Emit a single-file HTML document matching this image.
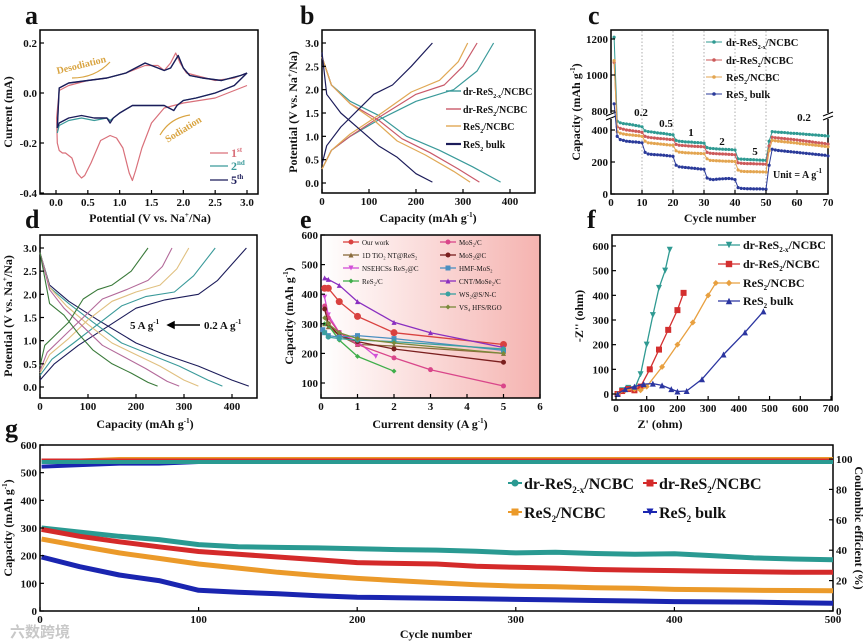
<!DOCTYPE html>
<html><head><meta charset="utf-8"><style>
html,body{margin:0;padding:0;background:#fff;}
svg{display:block;font-family:"Liberation Serif","Noto Serif CJK SC",serif;font-weight:bold;}
</style></head><body>
<svg id="fig" width="866" height="643" viewBox="0 0 866 643" xmlns="http://www.w3.org/2000/svg">
<defs><linearGradient id="pinkbg" x1="0" y1="0" x2="1" y2="0"><stop offset="0" stop-color="#ffffff"/><stop offset="1" stop-color="#f5b3b0"/></linearGradient></defs>
</svg>
<script>
// ---- panel a data ----
const aV1c=[3.0,2.5,2.0,1.7,1.5,1.35,1.25,1.2,1.15,1.05,0.95,0.85,0.7,0.55,0.45,0.4,0.33,0.25,0.15,0.1,0.05,0.02,0.01];
const aI1c=[0.03,-0.02,-0.04,-0.06,-0.12,-0.22,-0.31,-0.35,-0.32,-0.22,-0.18,-0.17,-0.19,-0.28,-0.33,-0.34,-0.32,-0.26,-0.24,-0.24,-0.23,-0.2,-0.1];
const aV1a=[0.01,0.05,0.2,0.5,0.8,1.1,1.4,1.6,1.7,1.8,1.88,1.95,2.05,2.2,2.5,2.8,3.0];
const aI1a=[-0.1,0.01,0.03,0.05,0.06,0.08,0.11,0.11,0.09,0.12,0.16,0.12,0.08,0.07,0.05,0.06,0.08];
const aV5c=[3.0,2.8,2.5,2.2,2.0,1.9,1.85,1.7,1.5,1.2,1.0,0.9,0.85,0.8,0.6,0.4,0.2,0.05,0.02];
const aI5c=[0.08,0.03,0.0,-0.02,-0.03,-0.05,-0.07,-0.05,-0.05,-0.05,-0.08,-0.1,-0.12,-0.1,-0.1,-0.09,-0.1,-0.12,-0.14];
const aV5a=[0.02,0.05,0.2,0.5,0.8,1.1,1.4,1.6,1.7,1.8,1.92,2.0,2.1,2.3,2.6,2.9,3.0];
const aI5a=[-0.14,0.02,0.04,0.05,0.06,0.08,0.12,0.1,0.09,0.1,0.15,0.1,0.07,0.06,0.05,0.07,0.08];
const aI2c=[0.08,0.03,0.0,-0.02,-0.03,-0.05,-0.07,-0.05,-0.05,-0.05,-0.08,-0.1,-0.11,-0.1,-0.11,-0.1,-0.11,-0.13,-0.16];
// ---- panel b data ----
const bNames=["dr-ReS2-x/NCBC","dr-ReS2/NCBC","ReS2/NCBC","ReS2 bulk"];
const bDisCap=[[0,20,60,120,180,250,320,380],[0,20,60,120,170,230,290,335],[0,20,60,110,160,220,280,315],[0,10,40,80,120,160,200,235]];
const bDisV=[[2.7,2.1,1.75,1.45,1.0,0.7,0.35,0.02],[2.7,2.1,1.7,1.35,0.95,0.65,0.3,0.02],[2.7,2.1,1.7,1.35,0.9,0.6,0.25,0.02],[2.8,1.9,1.5,1.15,0.8,0.55,0.2,0.02]];
const bChCap=[[0,20,60,120,200,280,330,365],[0,20,60,120,200,260,300,330],[0,20,60,120,190,250,290,310],[0,10,40,80,110,150,190,235]];
const bChV=[[0.3,0.7,1.0,1.35,1.75,2.0,2.4,3.0],[0.3,0.7,1.0,1.4,1.9,2.1,2.5,3.0],[0.3,0.7,1.05,1.45,1.95,2.2,2.6,3.0],[0.4,0.8,1.2,1.6,1.9,2.1,2.5,3.0]];
// ---- panel c data ----
const cTeal=[1210,455,445,440,438,435,432,428,425,420,395,390,388,385,382,380,378,375,372,370,335,330,328,326,325,324,322,321,320,318,290,285,284,282,281,280,279,278,277,275,220,218,217,216,215,214,213,212,211,210,330,390,388,386,385,384,382,380,379,378,376,375,373,372,370,369,367,366,364,362];
const cRed=[1070,420,410,405,400,398,395,392,390,385,360,355,352,350,348,346,345,343,341,340,310,305,303,302,300,299,298,297,296,295,260,255,253,252,251,250,249,248,247,245,195,192,191,190,190,189,188,188,187,186,300,355,352,350,348,346,344,342,340,338,335,333,330,328,325,322,320,318,315,312];
const cOrange=[1080,390,380,375,372,370,368,366,364,360,330,320,318,316,314,312,310,308,306,305,270,262,260,258,257,256,255,254,253,252,220,210,209,208,207,206,205,205,204,203,150,142,141,140,140,139,139,138,138,137,270,335,333,330,328,326,324,322,320,318,315,313,311,309,307,305,303,300,298,295];
const cNavy=[840,360,340,335,330,328,326,325,323,320,260,250,248,246,245,244,242,240,238,235,180,170,168,166,164,162,160,158,156,155,100,92,90,92,94,95,96,97,95,90,40,35,34,33,33,32,32,32,31,30,180,280,275,272,270,268,266,264,262,260,258,256,254,252,250,248,246,244,242,238];
const cRates=["0.2","0.5","1","2","5","0.2"];
// ---- panel d data ----
const dDisCap=[[0,20,60,120,200,260,330,400,435],[0,20,60,110,170,230,290,350,380],[0,20,55,100,150,200,250,300,330],[0,20,50,90,130,175,220,265,290],[0,20,50,80,110,150,190,225,245]];
const dDisV=[[2.9,2.2,1.85,1.45,0.95,0.7,0.45,0.15,0.02],[2.9,2.15,1.8,1.4,0.95,0.7,0.45,0.15,0.02],[2.9,2.15,1.75,1.35,0.95,0.7,0.45,0.15,0.02],[2.9,2.1,1.7,1.3,0.9,0.65,0.4,0.12,0.02],[2.9,1.8,1.55,1.15,0.8,0.5,0.3,0.1,0.02]];
const dChCap=[[0,30,80,140,200,260,330,370,430],[0,25,70,120,170,220,280,320,365],[0,20,60,100,150,200,250,285,310],[0,15,50,90,130,180,225,255,275],[0,10,30,60,90,120,150,190,225]];
const dChV=[[0.15,0.5,0.9,1.3,1.7,1.88,2.0,2.3,3.0],[0.25,0.6,0.95,1.35,1.75,1.95,2.05,2.4,3.0],[0.3,0.7,1.05,1.45,1.85,2.05,2.2,2.55,3.0],[0.35,0.75,1.1,1.5,1.9,2.1,2.3,2.6,3.0],[0.45,0.9,1.1,1.4,1.9,2.1,2.2,2.5,3.0]];
// ---- panel e data ----
const eNames=["Our work","1D TiO\u2082 NT@ReS\u2082","NSEHCSs ReS\u2082@C","ReS\u2082/C","MoS\u2082/C","MoS\u2082@C","HMF-MoS\u2082","CNT/MoSe\u2082/C","WS\u2082@S/N-C","VS\u2084 HFS/RGO"];
const eX=[[0.1,0.2,0.5,1,2,5],[0.1,0.2,0.5,1,2,5],[0.1,0.2,0.5,1,1.5],[0.1,0.2,0.5,1,2],[0.1,0.2,0.5,1,2,3,5],[0.1,0.2,0.5,1,2,5],[0.05,0.1,0.2,0.5,1,2,5],[0.1,0.2,0.5,1,2,3,5],[0.1,0.2,0.5,1,2,5],[0.1,0.2,0.5,1,2,5]];
const eY=[[420,420,375,325,270,230],[300,290,260,230,225,200],[390,330,270,240,190],[300,295,245,190,140],[360,320,270,230,185,145,90],[350,300,260,240,215,170],[280,270,260,255,260,250,210],[455,450,430,375,305,270,220],[270,255,250,245,240,215],[320,300,270,250,235,200]];
// ---- panel f data ----
const fX=[[5,20,40,60,80,100,120,140,160,175],[5,20,40,60,80,110,140,170,200,220],[5,30,60,80,100,150,200,250,300,325],[5,30,60,90,120,150,180,200,230,280,350,420,480]];
const fY=[[0,15,25,20,80,200,320,430,500,585],[0,12,20,15,30,100,180,260,340,410],[0,15,20,15,30,110,200,290,400,450],[0,20,30,40,42,35,20,10,12,60,160,250,335]];
// ---- panel g data ----
const gCycles=[1,25,50,75,100,125,150,175,200,225,250,275,300,325,350,375,400,425,450,475,500];
const gTeal=[300,285,270,258,240,232,230,228,225,222,220,216,210,212,208,205,207,200,192,188,185];
const gRed=[295,270,250,232,215,205,195,185,175,172,170,162,158,155,150,148,146,144,142,140,140];
const gOrange=[260,235,210,190,170,155,140,128,118,110,102,95,90,88,84,82,78,77,75,74,73];
const gNavy=[195,160,130,110,75,68,62,55,50,48,46,44,42,40,38,36,34,33,32,30,28];
const gCETeal=[98,98,98,98,98,98,98,98,98,98,98,98,98,98,98,98,98,98,98,98,98];
const gCERed=[99,99,99,99,99,99,99,99,99,99,99,99,99,99,99,99,99,99,99,99,99];
const gCEOrange=[99,99,100,100,100,100,100,100,100,100,100,100,100,100,100,100,100,100,100,100,100];
const gCENavy=[95,96,97,97,98,98,98,98,98,98,98,98,98,98,98,98,98,98,98,98,98];

const NS="http://www.w3.org/2000/svg";
const svg=document.getElementById('fig');
function el(tag,attrs,parent){const e=document.createElementNS(NS,tag);for(const k in attrs)e.setAttribute(k,attrs[k]);(parent||svg).appendChild(e);return e;}
function lin(d0,d1,r0,r1){return v=>r0+(v-d0)*(r1-r0)/(d1-d0);}
function txt(x,y,s,opt){const o=Object.assign({x:x,y:y,'font-size':11,'text-anchor':'middle',fill:'#111'},opt||{});const t=el('text',o);t.innerHTML=s;return t;}
function pathD(xs,ys,sx,sy){return xs.map((v,i)=>(i?'L':'M')+sx(v).toFixed(1)+' '+sy(ys[i]).toFixed(1)).join(' ');}
function frame(b,name){const r=el('rect',{x:b[0],y:b[2],width:b[1]-b[0],height:b[3]-b[2],fill:'none',stroke:'#000','stroke-width':1.5});

}
function xTicks(b,sx,ticks,fmt,name){ticks.forEach(v=>{const x=sx(v);el('line',{x1:x,x2:x,y1:b[3],y2:b[3]-4,stroke:'#000','stroke-width':1.2});const t=txt(x,b[3]+12,fmt(v));

});}
function yTicks(b,sy,ticks,fmt,name,right){ticks.forEach(v=>{const y=sy(v);const x0=right?b[1]:b[0];el('line',{x1:x0,x2:right?x0-4:x0+4,y1:y,y2:y,stroke:'#000','stroke-width':1.2});const t=txt(right?x0+3:x0-3,y+4,fmt(v),{'text-anchor':right?'start':'end'});

});}
function series(xs,ys,sx,sy,color,w,name){const p=el('path',{d:pathD(xs,ys,sx,sy),fill:'none',stroke:color,'stroke-width':w,'stroke-linejoin':'round'});


return p;}
function marker(x,y,color,shape,r){let m;if(shape==='sq')m=el('rect',{x:x-r,y:y-r,width:2*r,height:2*r,fill:color});else if(shape==='tri')m=el('path',{d:`M${x} ${y-r}L${x+r} ${y+r}L${x-r} ${y+r}Z`,fill:color});else if(shape==='dtri')m=el('path',{d:`M${x} ${y+r}L${x+r} ${y-r}L${x-r} ${y-r}Z`,fill:color});else if(shape==='dia')m=el('path',{d:`M${x} ${y-r}L${x+r} ${y}L${x} ${y+r}L${x-r} ${y}Z`,fill:color});else m=el('circle',{cx:x,cy:y,r:r,fill:color});

}
function letter(x,y,s){const t=txt(x,y,s,{'font-size':26,'text-anchor':'start'});

}
function ylab(x,y,s,rot,name){const t=txt(x,y,s,{'font-size':12,transform:`rotate(${rot||-90} ${x} ${y})`});

}
function xlab(x,y,s,name){const t=txt(x,y,s,{'font-size':12});

}
const f1=v=>v.toFixed(1), f0=v=>String(v);

// ================= a =================
(function(){const b=[40,258,30,194];const sx=lin(0,3,56,247),sy=lin(0.2,-0.4,43,193);
frame(b,'panel-a-frame');
series(aV1c,aI1c,sx,sy,'#d9707a',1.2,'cv-1st-cathodic');series(aV1a,aI1a,sx,sy,'#d9707a',1.2,'cv-1st-anodic');
series(aV5c,aI2c,sx,sy,'#3a9a9a',1.2,'cv-2nd-cathodic');series(aV5a,aI5a,sx,sy,'#3a9a9a',1.2,'cv-2nd-anodic');
series(aV5c,aI5c,sx,sy,'#1c1c5a',1.4,'cv-5th-cathodic');series(aV5a,aI5a,sx,sy,'#1c1c5a',1.4,'cv-5th-anodic');
xTicks(b,sx,[0,0.5,1,1.5,2,2.5,3],f1,'a-x');yTicks(b,sy,[-0.4,-0.2,0,0.2],f1,'a-y');
letter(25,24,'a');ylab(12,112,'Current (mA)',-90,'a-y-axis-title');xlab(150,222,'Potential (V vs. Na<tspan font-size="7" dy="-5">+</tspan><tspan dy="5">/Na)</tspan>','a-x-axis-title');
const leg=[['1<tspan font-size="7" dy="-5">st</tspan>','#d9707a',153],['2<tspan font-size="7" dy="-5">nd</tspan>','#3a9a9a',166],['5<tspan font-size="7" dy="-5">th</tspan>','#1c1c5a',180]];
leg.forEach(l=>{el('line',{x1:210,x2:228,y1:l[2],y2:l[2],stroke:l[1],'stroke-width':1.3});const t=txt(231,l[2]+4,l[0],{'text-anchor':'start',fill:l[1],'font-size':12});

});
const d=txt(82,68,'Desodiation',{fill:'#d9a441','font-size':10,transform:'rotate(-14 82 68)'});


el('path',{d:'M72 78 Q95 78 110 62',fill:'none',stroke:'#d9a441','stroke-width':1.2});
const s=txt(185,132,'Sodiation',{fill:'#d9a441','font-size':10,transform:'rotate(-32 185 132)'});


el('path',{d:'M190 115 Q170 118 160 135',fill:'none',stroke:'#d9a441','stroke-width':1.2});
})();

// ================= b =================
(function(){const b=[322,535,30,193];const sx=lin(0,400,322,510),sy=lin(3,0,43,183);
frame(b,'panel-b-frame');const cols=['#3a9a9a','#c95a6a','#e0a855','#1c1c5a'];
for(let i=0;i<4;i++){series(bDisCap[i],bDisV[i],sx,sy,cols[i],1.2,'b-discharge-'+i);series(bChCap[i],bChV[i],sx,sy,cols[i],1.2,'b-charge-'+i);}
xTicks(b,sx,[0,100,200,300,400],f0,'b-x');yTicks(b,sy,[0,0.5,1,1.5,2,2.5,3],f1,'b-y');
letter(300,24,'b');ylab(297,112,'Potential (V vs. Na<tspan font-size="7" dy="-5">+</tspan><tspan dy="5">/Na)</tspan>',-90,'b-y-axis-title');xlab(428,222,'Capacity (mAh g<tspan font-size="7" dy="-5">-1</tspan><tspan dy="5">)</tspan>','b-x-axis-title');
const lt=['dr-ReS<tspan font-size="6" dy="3">2-x</tspan><tspan dy="-3">/NCBC</tspan>','dr-ReS<tspan font-size="6" dy="3">2</tspan><tspan dy="-3">/NCBC</tspan>','ReS<tspan font-size="6" dy="3">2</tspan><tspan dy="-3">/NCBC</tspan>','ReS<tspan font-size="6" dy="3">2</tspan><tspan dy="-3"> bulk</tspan>'];
[91,109,126,144].forEach((y,i)=>{el('line',{x1:446,x2:461,y1:y,y2:y,stroke:cols[i],'stroke-width':i==3?2.2:1.4});const t=txt(463,y+4,lt[i],{'text-anchor':'start','font-size':10});

});
})();

// ================= c =================
(function(){const b=[611,828,30,194];const sx=lin(0,70,611,828);const lo=lin(0,400,194,130),hi=lin(800,1200,111,39);const sy=v=>v>=700?hi(v):lo(v);
frame(b,'panel-c-frame');
[10,20,30,40,50].forEach(v=>{el('line',{x1:sx(v),x2:sx(v),y1:31,y2:193,stroke:'#999','stroke-width':0.8,'stroke-dasharray':'1.5 2'});});
el('rect',{x:606,y:113,width:10,height:6,fill:'#fff'});el('rect',{x:823,y:113,width:10,height:6,fill:'#fff'});
el('path',{d:'M606 116 L616 112 M606 120 L616 116 M823 116 L833 112 M823 120 L833 116',stroke:'#000','stroke-width':1.2});
const cyc=cTeal.map((v,i)=>i+1);const S=[[cTeal,'#2f9a92','dr-ReS2-x'],[cRed,'#cc5a5a','dr-ReS2'],[cOrange,'#e3a550','ReS2-NCBC'],[cNavy,'#2a3a9a','ReS2-bulk']];
S.forEach(s=>{series(cyc,s[0],sx,sy,s[1],1,'c-rate-'+s[2]);s[0].forEach((v,i)=>marker(sx(i+1),sy(v),s[1],'c',1.6));});
xTicks(b,sx,[0,10,20,30,40,50,60,70],f0,'c-x');yTicks(b,sy,[0,200,400,800,1000,1200],f0,'c-y');
letter(588,24,'c');ylab(580,112,'Capacity (mAh g<tspan font-size="7" dy="-5">-1</tspan><tspan dy="5">)</tspan>',-90,'c-y-axis-title');xlab(720,222,'Cycle number','c-x-axis-title');
const rp=[[641,116],[666,127],[691,136],[722,145],[755,155],[804,121]];
rp.forEach((p,i)=>{const t=txt(p[0],p[1],cRates[i],{'font-size':11});

});
const u=txt(773,178,'Unit = A g<tspan font-size="7" dy="-5">-1</tspan>',{'font-size':10,'text-anchor':'start'});


const lt=['dr-ReS<tspan font-size="6" dy="3">2-x</tspan><tspan dy="-3">/NCBC</tspan>','dr-ReS<tspan font-size="6" dy="3">2</tspan><tspan dy="-3">/NCBC</tspan>','ReS<tspan font-size="6" dy="3">2</tspan><tspan dy="-3">/NCBC</tspan>','ReS<tspan font-size="6" dy="3">2</tspan><tspan dy="-3"> bulk</tspan>'];
[42,60,77,94].forEach((y,i)=>{el('line',{x1:706,x2:722,y1:y,y2:y,stroke:S[i][1],'stroke-width':1});marker(714,y,S[i][1],'c',1.8);const t=txt(726,y+4,lt[i],{'text-anchor':'start','font-size':10.5});

});
})();

// ================= d =================
(function(){const b=[40,257,235,398];const sx=lin(0,400,40,232),sy=lin(3,0,248,387);
frame(b,'panel-d-frame');const cols=['#1c1c5a','#3a9a9a','#e0c080','#b36a9a','#3a7a3a'];
for(let i=0;i<5;i++){series(dDisCap[i],dDisV[i],sx,sy,cols[i],1.1,'d-discharge-'+i);series(dChCap[i],dChV[i],sx,sy,cols[i],1.1,'d-charge-'+i);}
xTicks(b,sx,[0,100,200,300,400],f0,'d-x');yTicks(b,sy,[0,0.5,1,1.5,2,2.5,3],f1,'d-y');
letter(25,228,'d');ylab(12,316,'Potential (V vs. Na<tspan font-size="7" dy="-5">+</tspan><tspan dy="5">/Na)</tspan>',-90,'d-y-axis-title');xlab(145,428,'Capacity (mAh g<tspan font-size="7" dy="-5">-1</tspan><tspan dy="5">)</tspan>','d-x-axis-title');
const t1=txt(130,329,'5 A g<tspan font-size="7" dy="-5">-1</tspan>',{'font-size':11,'text-anchor':'start'});


el('path',{d:'M200 325 L168 325 M168 325 L174 322 L174 328 Z',stroke:'#000','stroke-width':1.5,fill:'#000'});
const t2=txt(204,329,'0.2 A g<tspan font-size="7" dy="-5">-1</tspan>',{'font-size':11,'text-anchor':'start'});


})();

// ================= e =================
(function(){const b=[321,540,235,398];const sx=lin(0,6,321,540),sy=lin(600,100,235,383);
el('rect',{x:321,y:235,width:219,height:163,fill:'url(#pinkbg)'});frame(b,'panel-e-frame');
const cols=['#d9413f','#8a6a3a','#d24fd8','#3fae4a','#d9468a','#7a1f1f','#4a8fc0','#8a2fc0','#3aa0a0','#7a8a3a'];const shp=['c','tri','dtri','dia','c','c','sq','tri','c','dia'];
for(let i=0;i<eX.length;i++){series(eX[i],eY[i],sx,sy,cols[i],1.3,'e-series-'+i);eX[i].forEach((x,j)=>marker(sx(x),sy(eY[i][j]),cols[i],shp[i],i==0?3.5:2.5));}
xTicks(b,sx,[0,1,2,3,4,5,6],f0,'e-x');yTicks(b,sy,[100,200,300,400,500,600],f0,'e-y');
letter(300,228,'e');ylab(293,316,'Capacity (mAh g<tspan font-size="7" dy="-5">-1</tspan><tspan dy="5">)</tspan>',-90,'e-y-axis-title');xlab(430,428,'Current density (A g<tspan font-size="7" dy="-5">-1</tspan><tspan dy="5">)</tspan>','e-x-axis-title');
const ly=[242,255,268,281,242,255,268,281,294,307];
for(let i=0;i<10;i++){const lx=i<4?343:440;el('line',{x1:lx,x2:lx+16,y1:ly[i],y2:ly[i],stroke:cols[i],'stroke-width':1.3});marker(lx+8,ly[i],cols[i],shp[i],2.5);const t=txt(lx+19,ly[i]+3,eNames[i],{'text-anchor':'start','font-size':7,'font-weight':'normal'});

}
})();

// ================= f =================
(function(){const b=[612,832,235,400];const sx=lin(0,700,616,831),sy=lin(0,600,394,246);
frame(b,'panel-f-frame');const cols=['#2f9a92','#d32f2f','#e8a040','#2b35a0'];const shp=['dtri','sq','dia','tri'];
for(let i=0;i<4;i++){series(fX[i],fY[i],sx,sy,cols[i],1.3,'f-nyquist-'+i);fX[i].forEach((x,j)=>marker(sx(x),sy(fY[i][j]),cols[i],shp[i],3));}
xTicks(b,sx,[0,100,200,300,400,500,600,700],f0,'f-x');yTicks(b,sy,[0,100,200,300,400,500,600],f0,'f-y');
letter(587,228,'f');ylab(583,316,'-Z\'\' (ohm)',-90,'f-y-axis-title');xlab(660,428,'Z\' (ohm)','f-x-axis-title');
const lt=['dr-ReS<tspan font-size="7" dy="3">2-x</tspan><tspan dy="-3">/NCBC</tspan>','dr-ReS<tspan font-size="7" dy="3">2</tspan><tspan dy="-3">/NCBC</tspan>','ReS<tspan font-size="7" dy="3">2</tspan><tspan dy="-3">/NCBC</tspan>','ReS<tspan font-size="7" dy="3">2</tspan><tspan dy="-3"> bulk</tspan>'];
[245,264,283,301].forEach((y,i)=>{el('line',{x1:718,x2:740,y1:y,y2:y,stroke:cols[i],'stroke-width':1.3});marker(729,y,cols[i],shp[i],3.2);const t=txt(743,y+4,lt[i],{'text-anchor':'start','font-size':12});

});
})();

// ================= g =================
(function(){const b=[40,833,445,611];const sx=lin(0,500,40,833),sy=lin(0,600,611,445),sr=lin(0,100,611,459);
frame(b,'panel-g-frame');const cols=['#2a9a92','#d42a2a','#eb9a2a','#1a25b0'];
series(gCycles,gCEOrange,sx,sr,cols[2],4,'g-ce-ReS2-NCBC');series(gCycles,gCERed,sx,sr,cols[1],4,'g-ce-dr-ReS2');series(gCycles,gCENavy,sx,sr,cols[3],4,'g-ce-bulk');series(gCycles,gCETeal,sx,sr,cols[0],4,'g-ce-dr-ReS2-x');
series(gCycles,gTeal,sx,sy,cols[0],5,'g-capacity-dr-ReS2-x');series(gCycles,gRed,sx,sy,cols[1],5,'g-capacity-dr-ReS2');series(gCycles,gOrange,sx,sy,cols[2],5,'g-capacity-ReS2-NCBC');series(gCycles,gNavy,sx,sy,cols[3],5,'g-capacity-bulk');
xTicks(b,sx,[0,100,200,300,400,500],f0,'g-x');yTicks(b,sy,[0,100,200,300,400,500,600],f0,'g-y');yTicks(b,sr,[0,20,40,60,80,100],f0,'g-y2',true);
letter(5,437,'g');ylab(12,528,'Capacity (mAh g<tspan font-size="7" dy="-5">-1</tspan><tspan dy="5">)</tspan>',-90,'g-y-axis-title');ylab(855,528,'Coulombic efficient (%)',90,'g-y2-axis-title');xlab(436,638,'Cycle number','g-x-axis-title');
const lt=['dr-ReS<tspan font-size="9" dy="4">2-x</tspan><tspan dy="-4">/NCBC</tspan>','dr-ReS<tspan font-size="9" dy="4">2</tspan><tspan dy="-4">/NCBC</tspan>','ReS<tspan font-size="9" dy="4">2</tspan><tspan dy="-4">/NCBC</tspan>','ReS<tspan font-size="9" dy="4">2</tspan><tspan dy="-4"> bulk</tspan>'];
const pos=[[508,483],[643,483],[508,512],[643,512]];const shp=['c','sq','sq','dtri'];
pos.forEach((p,i)=>{el('line',{x1:p[0],x2:p[0]+14,y1:p[1],y2:p[1],stroke:cols[i],'stroke-width':2});marker(p[0]+7,p[1],cols[i],shp[i],3.5);const t=txt(p[0]+16,p[1]+6,lt[i],{'text-anchor':'start','font-size':16});

});
const w=txt(10,637,'六数跨境',{'text-anchor':'start','font-size':15,fill:'#c8c8c8','font-family':'"Noto Sans CJK SC",sans-serif'});


})();
</script>
</body></html>
